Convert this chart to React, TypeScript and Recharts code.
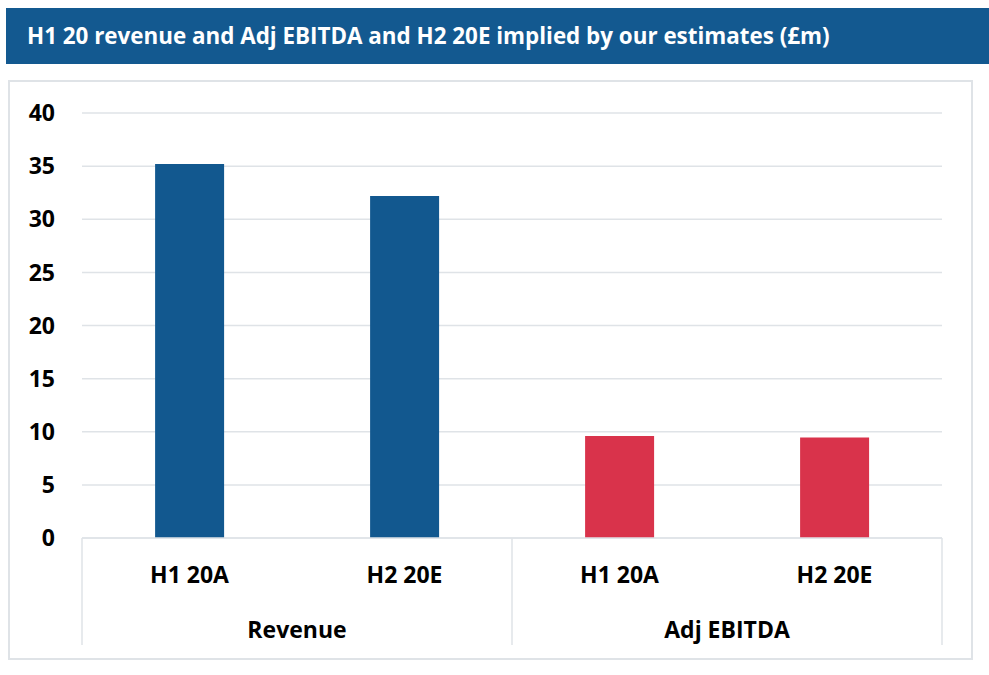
import React from "react"
import { BarChart, Bar, Cell, XAxis, YAxis, CartesianGrid } from "recharts"

const categories = ["H1 20A", "H2 20E", "H1 20A", "H2 20E"]
const groups = ["Revenue", "Adj EBITDA"]
const groupOfBar = [0, 0, 1, 1]
const values = [35.2, 32.2, 9.6, 9.45]
const yTicks = [0, 5, 10, 15, 20, 25, 30, 35, 40]
const groupTicks = [0, 1, 2, 3, 4]

const groupColors = ["#12588f", "#d9334b"]
const FONT = "'Open Sans', sans-serif"
const LINE = "#dfe3e7"

const data = categories.map((label, i) => ({
  slot: i,
  label,
  value: values[i],
  group: groups[groupOfBar[i]],
}))

function CategoryTick(props: any) {
  const { x, y, payload } = props
  return (
    <text
      x={x}
      y={y + 45}
      textAnchor="middle"
      fontFamily={FONT}
      fontWeight={700}
      fontSize={23}
      fill="#000"
    >
      {categories[payload.value]}
    </text>
  )
}

function GroupTick(props: any) {
  const { x, y, payload } = props
  const v = payload.value as number
  if (v % 2 === 0) {
    return <line x1={x} x2={x} y1={y - 70} y2={y + 37} stroke={LINE} strokeWidth={1.5} />
  }
  return (
    <text
      x={x}
      y={y + 30}
      textAnchor="middle"
      fontFamily={FONT}
      fontWeight={700}
      fontSize={23}
      fill="#000"
    >
      {groups[(v - 1) / 2]}
    </text>
  )
}

export default function App() {
  return (
    <div style={{ position: "absolute", left: 0, top: 0, width: 989, height: 675, background: "#fff" }}>
      <div
        style={{
          position: "absolute",
          left: 6,
          top: 8,
          width: 983,
          height: 56,
          background: "#135990",
          color: "#fff",
          fontFamily: FONT,
          fontWeight: 700,
          fontSize: 22.4,
          lineHeight: "56px",
          paddingLeft: 21,
          boxSizing: "border-box",
          whiteSpace: "nowrap",
        }}
      >
        H1 20 revenue and Adj EBITDA and H2 20E implied by our estimates (£m)
      </div>
      <div
        style={{
          position: "absolute",
          left: 8,
          top: 80,
          width: 965,
          height: 580,
          border: `2px solid ${LINE}`,
          boxSizing: "border-box",
        }}
      />
      <div style={{ position: "absolute", left: 0, top: 0 }}>
        <BarChart
          width={989}
          height={675}
          data={data}
          margin={{ top: 113, right: 47, left: 10, bottom: 17 }}
          barCategoryGap="34%"
        >
          <CartesianGrid vertical={false} stroke={LINE} strokeWidth={1.5} />
          <XAxis
            dataKey="slot"
            type="category"
            height={70}
            tick={<CategoryTick />}
            tickLine={false}
            tickSize={0}
            tickMargin={0}
            axisLine={{ stroke: LINE, strokeWidth: 1.5 }}
            interval={0}
          />
          <XAxis
            xAxisId="grp"
            dataKey="slot"
            type="number"
            domain={[0, 4]}
            ticks={groupTicks}
            allowDataOverflow
            height={50}
            tick={<GroupTick />}
            tickLine={false}
            tickSize={0}
            tickMargin={0}
            axisLine={false}
            interval={0}
          />
          <YAxis
            domain={[0, 40]}
            ticks={yTicks}
            width={72}
            axisLine={false}
            tickLine={false}
            tickSize={0}
            tickMargin={27}
            tick={{ fontFamily: FONT, fontWeight: 700, fontSize: 23, fill: "#000" }}
          />
          <Bar dataKey="value" isAnimationActive={false}>
            {data.map((d) => (
              <Cell key={d.slot} fill={groupColors[groupOfBar[d.slot]]} />
            ))}
          </Bar>
        </BarChart>
      </div>
    </div>
  )
}
